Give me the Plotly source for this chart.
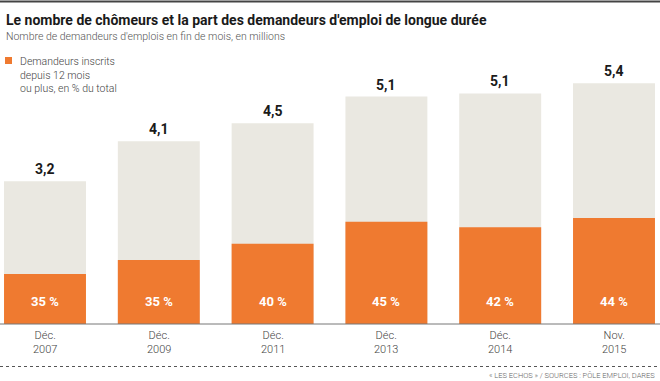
import plotly.graph_objects as go

periods = ["Déc.<br>2007", "Déc.<br>2009", "Déc.<br>2011", "Déc.<br>2013", "Déc.<br>2014", "Nov.<br>2015"]
totals = [3.2, 4.1, 4.5, 5.1, 5.17, 5.4]          # millions
total_labels = ["3,2", "4,1", "4,5", "5,1", "5,1", "5,4"]
long_share = [35, 35, 40, 45, 42, 44]              # % of total

ORANGE = "#EF7A30"
GREY = "#EAE8E1"
FONT = "Roboto"

W, H = 660, 381
BASE = 324          # pixel row of the baseline
PPU = 44.6          # pixels per million
XPPU = 113.8        # pixels per category step
X0 = 45             # pixel centre of first bar

xs = list(range(len(periods)))
long_vals = [t * s / 100 for t, s in zip(totals, long_share)]


def yp(p):
    return (BASE - p) / PPU


def xp(p):
    return (p - X0) / XPPU


fig = go.Figure()
fig.add_trace(go.Bar(x=xs, y=totals, marker=dict(color=GREY, line=dict(width=0)),
                     width=0.72, hoverinfo="skip"))
fig.add_trace(go.Bar(x=xs, y=long_vals, marker=dict(color=ORANGE, line=dict(width=0)),
                     width=0.72, hoverinfo="skip"))


def rule(ypix, color, width, dash="solid"):
    fig.add_trace(go.Scatter(x=[xp(0), xp(W)], y=[yp(ypix), yp(ypix)], mode="lines",
                             line=dict(color=color, width=width, dash=dash),
                             hoverinfo="skip", cliponaxis=False))


rule(1.5, "#444444", 2)
rule(324, "#777777", 1)
rule(366.5, "#555555", 1, "dot")

ann = []
for x, t, lab in zip(xs, totals, total_labels):
    ann.append(dict(x=x, y=t, text=lab, showarrow=False, yshift=12, yanchor="middle",
                    font=dict(family=FONT, size=14, color="#1a1a1a", weight="bold")))
for x, s in zip(xs, long_share):
    ann.append(dict(x=x, y=0, text=f"{s} %", showarrow=False, yshift=23, yanchor="middle",
                    font=dict(family=FONT, size=13, color="white", weight="bold")))
for x, p in zip(xs, periods):
    ann.append(dict(x=x, y=0, text=p, showarrow=False, yshift=-18, yanchor="middle",
                    font=dict(family=FONT, size=11, color="#444444", weight=300)))

ann.append(dict(x=xp(4), y=yp(20), xanchor="left", yanchor="middle",
                text="Le nombre de chômeurs et la part des demandeurs d'emploi de longue durée",
                showarrow=False, font=dict(family=FONT, size=14, color="#1a1a1a", weight="bold")))
ann.append(dict(x=xp(4), y=yp(36), xanchor="left", yanchor="middle",
                text="Nombre de demandeurs d'emplois en fin de mois, en millions",
                showarrow=False, font=dict(family=FONT, size=10.5, color="#555555", weight=300)))
ann.append(dict(x=xp(18), y=yp(53), xanchor="left", yanchor="top", align="left",
                text="Demandeurs inscrits<br>depuis 12 mois<br>ou plus, en % du total",
                showarrow=False, font=dict(family=FONT, size=10.5, color="#444444", weight=300)))
ann.append(dict(x=xp(657), y=yp(375), xanchor="right", yanchor="middle",
                text="« LES ECHOS » / SOURCES : PÔLE EMPLOI, DARES",
                showarrow=False, font=dict(family=FONT, size=7.5, color="#666666", weight=300)))

shapes = [
    dict(type="rect", xref="x", yref="y", x0=xp(5), x1=xp(12), y0=yp(64), y1=yp(57),
         fillcolor=ORANGE, line=dict(width=0)),
]

fig.update_layout(
    width=W, height=H,
    margin=dict(l=0, r=0, t=0, b=0, pad=0),
    barmode="overlay",
    showlegend=False,
    plot_bgcolor="white", paper_bgcolor="white",
    annotations=ann, shapes=shapes,
    xaxis=dict(range=[xp(0), xp(W)], visible=False, fixedrange=True),
    yaxis=dict(range=[yp(H), yp(0)], visible=False, fixedrange=True),
)

fig.write_html("out.html", config={"displayModeBar": False, "staticPlot": True},
               post_script="document.body.style.margin='0';document.body.style.overflow='hidden';")
